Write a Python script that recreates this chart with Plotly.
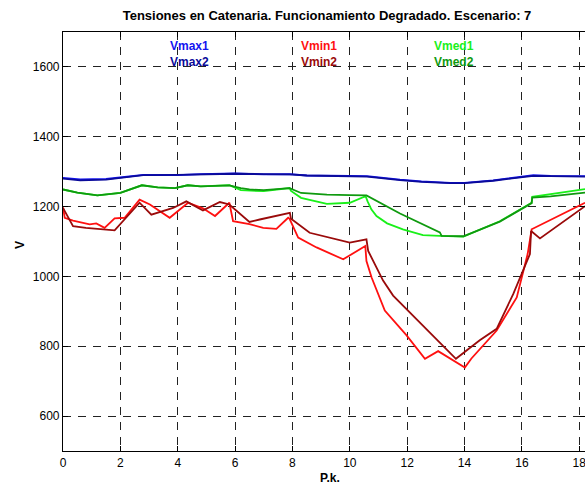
import plotly.graph_objects as go

# ---- data ----
vmax1_x = [0, 0.6, 1.5, 2.0, 2.8, 4.0, 4.8, 6.0, 7.0, 7.9, 8.5, 10.0, 10.6, 11.75, 12.5, 13.5, 14.0, 15.0, 16.0, 16.4, 17.0, 18.2]
vmax1_y = [1282, 1278, 1279, 1284, 1291, 1290, 1293, 1295, 1292, 1293, 1289, 1288, 1287, 1277, 1272, 1268, 1268, 1275, 1285, 1290, 1288, 1287]
vmax2_x = vmax1_x
vmax2_y = [1280, 1275, 1277, 1282, 1290, 1291, 1293, 1294, 1293, 1292, 1289, 1287, 1286, 1276, 1271, 1267, 1267, 1274, 1284, 1288, 1287, 1286]

vmed1_x = [0, 0.5, 1.2, 2.0, 2.75, 3.3, 3.9, 4.35, 4.8, 5.8, 6.2, 6.5, 7.0, 7.9, 7.95, 8.3, 9.2, 10.0, 10.55, 10.62, 10.75, 10.93, 11.3, 11.85, 12.55, 13.14, 13.96, 15.23, 16.04, 16.34, 16.36, 17.0, 18.2]
vmed1_y = [1249, 1240, 1232, 1239, 1261, 1255, 1253, 1261, 1258, 1261, 1247, 1246, 1244, 1253, 1245, 1225, 1208, 1211, 1230, 1215, 1192, 1173, 1152, 1135, 1118, 1116, 1114, 1158, 1196, 1211, 1228, 1235, 1250]
vmed2_x = [0, 0.5, 1.2, 2.0, 2.75, 3.3, 3.9, 4.35, 4.8, 5.8, 6.2, 6.5, 7.0, 7.9, 8.3, 9.2, 10.0, 10.58, 11.75, 12.5, 13.14, 13.2, 13.96, 15.23, 16.04, 16.34, 16.36, 17.0, 18.2]
vmed2_y = [1249, 1240, 1232, 1239, 1261, 1255, 1253, 1261, 1258, 1261, 1253, 1249, 1247, 1253, 1239, 1234, 1233, 1232, 1180, 1150, 1126, 1116, 1115, 1157, 1195, 1210, 1226, 1229, 1240]

vmin1_x = [0, 0.06, 0.35, 0.58, 0.93, 1.16, 1.45, 1.8, 2.15, 2.67, 3.03, 3.72, 4.36, 4.88, 5.3, 5.8, 5.93, 6.5, 6.98, 7.44, 7.85, 7.9, 8.2, 8.84, 9.77, 10.54, 10.58, 10.76, 11.22, 11.98, 12.62, 13.08, 14.01, 14.24, 15.12, 15.82, 16.2, 16.34, 17.0, 18.2]
vmin1_y = [1198, 1168, 1160, 1156, 1149, 1152, 1139, 1166, 1168, 1220, 1206, 1168, 1211, 1195, 1173, 1211, 1158, 1150, 1139, 1136, 1168, 1165, 1111, 1083, 1049, 1087, 1044, 997, 902, 831, 764, 786, 739, 765, 845, 940, 1064, 1135, 1162, 1211]
vmin2_x = [0, 0.35, 0.8, 1.45, 1.8, 2.67, 3.08, 3.84, 4.3, 4.88, 5.47, 5.8, 6.5, 6.86, 7.91, 7.95, 8.6, 10.0, 10.58, 10.64, 11.16, 11.51, 13.14, 13.7, 14.53, 15.12, 15.7, 16.28, 16.32, 16.63, 18.2]
vmin2_y = [1196, 1144, 1139, 1135, 1132, 1211, 1177, 1196, 1215, 1189, 1213, 1206, 1156, 1163, 1182, 1165, 1125, 1097, 1106, 1073, 988, 945, 812, 764, 817, 850, 950, 1064, 1130, 1109, 1201]

x_ticks = [0, 2, 4, 6, 8, 10, 12, 14, 16, 18]
y_ticks = [600, 800, 1000, 1200, 1400, 1600]

series = [
    ("Vmax1", vmax1_x, vmax1_y, "#1414f0"),
    ("Vmax2", vmax2_x, vmax2_y, "#0a0a9a"),
    ("Vmin1", vmin1_x, vmin1_y, "#ff1010"),
    ("Vmin2", vmin2_x, vmin2_y, "#9a0a0a"),
    ("Vmed1", vmed1_x, vmed1_y, "#19f019"),
    ("Vmed2", vmed2_x, vmed2_y, "#0f9a0f"),
]

FONT = "Liberation Sans, Arial, sans-serif"
fig = go.Figure()
for name, xs, ys, col in series:
    fig.add_trace(go.Scatter(x=xs, y=ys, mode="lines", name=name,
                             line=dict(color=col, width=1.8)))

# text legend like the reference (colored labels, no samples)
label_pos = {"Vmax1": (3.65, 1660), "Vmax2": (3.65, 1614),
             "Vmin1": (8.24, 1660), "Vmin2": (8.24, 1614),
             "Vmed1": (12.88, 1660), "Vmed2": (12.88, 1614)}
for name, xs, ys, col in series:
    lx, ly = label_pos[name]
    fig.add_annotation(x=lx, y=ly, xref="x", yref="y", text="<b>" + name + "</b>",
                       showarrow=False, xanchor="left", yanchor="middle",
                       font=dict(family=FONT, size=12, color=col))

# axis titles as annotations for exact placement
fig.add_annotation(x=-0.082, y=0.492, xref="paper", yref="paper", text="<b>V</b>",
                   textangle=-90, showarrow=False, xanchor="center", yanchor="middle",
                   font=dict(family=FONT, size=12, color="black"))
fig.add_annotation(x=0.5115, y=-0.064, xref="paper", yref="paper", text="<b>P.k.</b>",
                   showarrow=False, xanchor="center", yanchor="middle",
                   font=dict(family=FONT, size=12, color="black"))

axis_common = dict(showline=True, linecolor="black", linewidth=1.2, mirror="ticks",
                   ticks="inside", ticklen=5, tickcolor="black", automargin=False,
                   ticklabeloverflow="allow",
                   showgrid=True, gridcolor="#222", gridwidth=1, griddash="8px,7px",
                   zeroline=False, tickfont=dict(family=FONT, size=12, color="black"))

fig.update_xaxes(range=[0, 18.2], tickvals=x_ticks, **axis_common)
fig.update_yaxes(range=[500, 1700], tickvals=y_ticks, **axis_common)

fig.update_layout(
    width=585, height=486,
    margin=dict(l=63, r=0, t=32, b=35),
    paper_bgcolor="white", plot_bgcolor="white",
    showlegend=False,
    title=dict(text="<b>Tensiones en Catenaria. Funcionamiento Degradado. Escenario: 7</b>",
               x=0.559, xanchor="center", y=0.968, yanchor="middle",
               font=dict(family=FONT, size=13, color="black")),
)

fig.write_html("out.html", config={"displayModeBar": False})

# remove the default page margin so the figure sits at the window's top-left corner
with open("out.html", "r", encoding="utf-8") as f:
    html = f.read()
html = html.replace("<head>", "<head><style>html,body{margin:0;padding:0;overflow:hidden;}</style>", 1)
with open("out.html", "w", encoding="utf-8") as f:
    f.write(html)
